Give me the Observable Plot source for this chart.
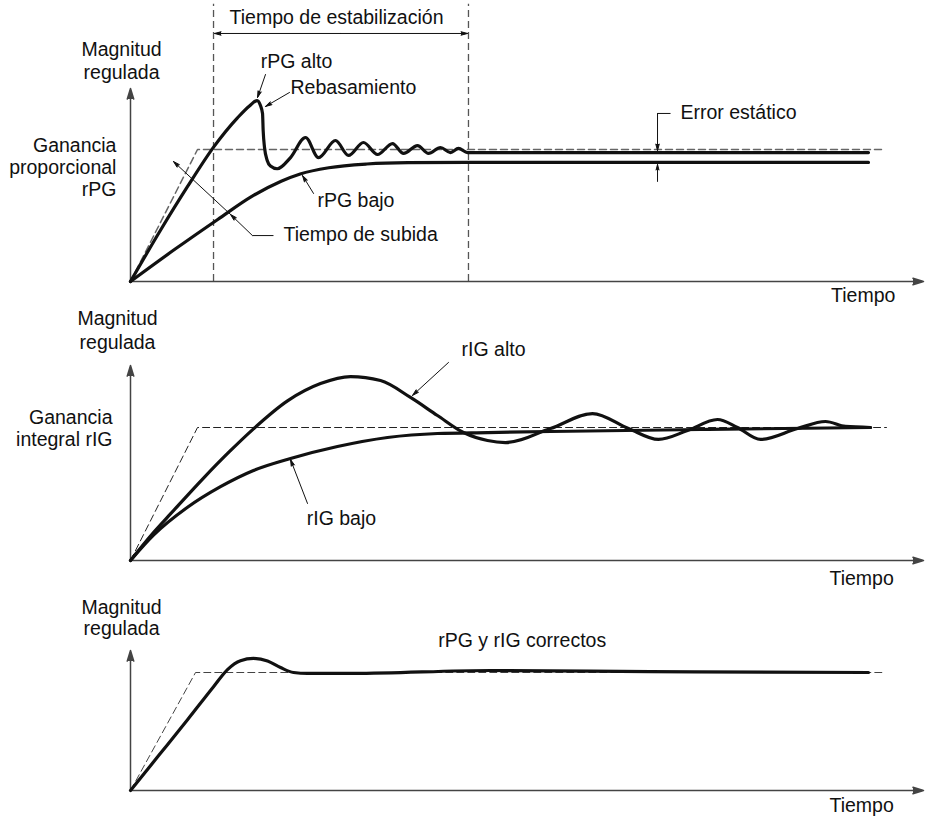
<!DOCTYPE html>
<html>
<head>
<meta charset="utf-8">
<script src="https://cdn.jsdelivr.net/npm/d3@7"></script>
<script src="https://cdn.jsdelivr.net/npm/@observablehq/plot@0.6"></script>
<style>
  html, body { margin: 0; padding: 0; background: #fff; }
  #chart { width: 929px; }
  #chart svg { display: block; }
</style>
</head>
<body>
<div id="chart"></div>
<script>
// ---------- DATA (t = time units, v = magnitude, setpoint = 1) ----------
// Panel 1: proportional gain
const p1Setpoint = [[0, 0], [8.45, 1], [94.96, 1]];
const p1RpgAlto = [[0, 0], [3.8, 0.39], [7.2, 0.72], [10.5, 1.02], [13.49, 1.24], [15.0, 1.33],
  [15.97, 1.371], [16.39, 1.333], [16.65, 1.273], [16.73, 1.144], [16.9, 1.015], [17.24, 0.917], [17.65, 0.875],
  [18.5, 0.854], [20.18, 0.939], [22.07, 1.091], [23.71, 0.939], [25.85, 1.068], [27.49, 0.955], [29.38, 1.053],
  [31.15, 0.962], [33.04, 1.045], [34.43, 0.970], [36.19, 1.030], [37.58, 0.970], [39.09, 1.015], [40.35, 0.977],
  [41.36, 1.008], [42.5, 0.977], [93.06, 0.977]];
const p1RpgBajo = [[0, 0], [5.5, 0.24], [11.0, 0.47], [15.3, 0.645], [19.0, 0.76], [21.4, 0.815], [25.0, 0.862],
  [29.8, 0.89], [35.0, 0.90], [42.5, 0.902], [93.06, 0.902]];
const p1SettleTimes = [10.47, 42.62];
const p1SettleTop = 2.1;
const p1AxisTop = 1.462;
const p1Arrows = [
  [17.02, 1.568, 16.02, 1.394],   // rPG alto
  [20.05, 1.432, 17.02, 1.326],   // Rebasamiento
  [23.08, 0.667, 21.69, 0.803],   // rPG bajo
  [15.38, 0.348, 12.61, 0.508],   // Tiempo de subida (lower head)
  [12.61, 0.508, 5.42, 0.909],    // Tiempo de subida (upper head)
  [66.46, 1.273, 66.46, 0.992],   // Error estático (down)
  [66.46, 0.758, 66.46, 0.886],   // Error estático (up)
  [26.5, 1.879, 10.6, 1.879],     // Tiempo de estabilización (left)
  [26.5, 1.879, 42.5, 1.879]      // Tiempo de estabilización (right)
];
const p1Links = [
  [18.03, 0.348, 15.38, 0.348],
  [68.10, 1.273, 66.46, 1.273]
];
const p1TextMiddle = [
  [-1.13, 1.758, "Magnitud"], [-1.13, 1.583, "regulada"],
  [25.98, 2.0, "Tiempo de estabilización"], [20.93, 1.667, "rPG alto"],
  [92.4, -0.106, "Tiempo"]
];
const p1TextStart = [
  [20.18, 1.470, "Rebasamiento"], [23.58, 0.614, "rPG bajo"],
  [19.29, 0.356, "Tiempo de subida"], [69.36, 1.280, "Error estático"]
];
const p1TextEnd = [
  [-1.77, 1.030, "Ganancia"], [-1.77, 0.864, "proporcional"], [-1.77, 0.697, "rPG"]
];

// Panel 2: integral gain
const p2Setpoint = [[0, 0], [8.45, 1], [95.33, 1]];
const p2RigAlto = [[0, 0], [2.9, 0.21], [5.04, 0.35], [9.21, 0.62], [12.5, 0.82], [15.51, 0.99], [19.8, 1.2],
  [23.96, 1.33], [27.74, 1.383], [31.53, 1.353], [35.31, 1.226], [38.71, 1.090], [41.99, 0.962], [45.02, 0.902],
  [47.29, 0.887], [52.96, 0.992], [58.26, 1.105], [62.80, 0.992], [66.58, 0.910], [70.24, 0.977],
  [74.02, 1.060], [76.54, 1.0], [79.45, 0.910], [84.11, 0.992], [87.64, 1.045], [90.16, 1.008], [93.32, 1.0]];
const p2RigBajo = [[0, 0], [2.9, 0.19], [7.19, 0.40], [11.35, 0.555], [15.51, 0.677], [20.18, 0.767],
  [26.10, 0.857], [32.41, 0.925], [38.71, 0.955], [45.02, 0.962], [52.96, 0.970], [71.88, 0.985], [93.32, 1.0]];
const p2AxisTop = 1.466;
const p2Arrows = [
  [40.1, 1.489, 35.56, 1.241],   // rIG alto
  [22.32, 0.429, 20.18, 0.759]   // rIG bajo
];
const p2TextMiddle = [
  [-1.64, 1.820, "Magnitud"], [-1.64, 1.639, "regulada"],
  [45.78, 1.586, "rIG alto"], [26.6, 0.316, "rIG bajo"], [92.2, -0.135, "Tiempo"]
];
const p2TextEnd = [
  [-2.27, 1.075, "Ganancia"], [-2.27, 0.910, "integral rIG"]
];

// Panel 3: correct gains
const p3Setpoint = [[0, 0], [8.2, 1], [94.96, 1]];
const p3Curve = [[0, 0], [3.6, 0.30], [7.19, 0.60], [10.47, 0.88], [12.23, 1.025], [13.87, 1.10],
  [15.51, 1.119], [17.28, 1.098], [18.92, 1.042], [20.56, 1.0], [22.32, 0.992], [28.12, 0.992],
  [45.40, 1.017], [65.57, 1.008], [93.06, 1.0]];
const p3AxisTop = 1.186;
const p3TextMiddle = [
  [-1.13, 1.551, "Magnitud"], [-1.13, 1.373, "regulada"],
  [49.4, 1.271, "rPG y rIG correctos"], [92.2, -0.127, "Tiempo"]
];

// ---------- DRAWING ----------
const FONT = "'Liberation Sans', Arial, Helvetica, sans-serif";
const FS = 19.5;
const INK = "#111";

function axisArrows(top) {
  const ax = [[0, 0, 100, 0], [0, 0, 0, top]];
  return Plot.arrow(ax, {
    x1: d => d[0], y1: d => d[1], x2: d => d[2], y2: d => d[3],
    stroke: "#444", fill: "#444", strokeWidth: 1.5, headLength: 11, headAngle: 34
  });
}
function curve(data) {
  return Plot.line(data, {x: d => d[0], y: d => d[1], stroke: INK, strokeWidth: 3.2, curve: "monotone-x"});
}
function dashed(data, color, w) {
  return Plot.line(data, {x: d => d[0], y: d => d[1], stroke: color, strokeWidth: w, strokeDasharray: "7,4"});
}
function leaders(data) {
  return Plot.arrow(data, {
    x1: d => d[0], y1: d => d[1], x2: d => d[2], y2: d => d[3],
    stroke: INK, fill: INK, strokeWidth: 1, headLength: 10, headAngle: 30
  });
}
function links(data) {
  return Plot.link(data, {x1: d => d[0], y1: d => d[1], x2: d => d[2], y2: d => d[3], stroke: INK, strokeWidth: 1});
}
function texts(data, anchor) {
  return Plot.text(data, {x: d => d[0], y: d => d[1], text: d => d[2], textAnchor: anchor,
    fill: INK, fontSize: FS, fontFamily: FONT});
}
function panel(height, marginBottom, yTop, marks) {
  return Plot.plot({
    width: 929, height, marginLeft: 130, marginRight: 6, marginTop: 0, marginBottom,
    x: {domain: [0, 100], axis: null},
    y: {domain: [0, yTop], axis: null},
    style: {fontFamily: FONT, background: "#fff", overflow: "visible", color: INK},
    marks
  });
}

const chart = document.getElementById("chart");

chart.append(panel(305, 24, 281 / 132, [
  Plot.ruleX(p1SettleTimes, {x: d => d, y1: 0, y2: p1SettleTop, stroke: "#555", strokeWidth: 1.3, strokeDasharray: "7,4"}),
  dashed(p1Setpoint, "#666", 1.5),
  axisArrows(p1AxisTop),
  curve(p1RpgBajo),
  curve(p1RpgAlto),
  leaders(p1Arrows),
  links(p1Links),
  texts(p1TextMiddle, "middle"),
  texts(p1TextStart, "start"),
  texts(p1TextEnd, "end")
]));

chart.append(panel(280, 25, 255 / 133, [
  dashed(p2Setpoint, "#222", 1),
  axisArrows(p2AxisTop),
  curve(p2RigBajo),
  curve(p2RigAlto),
  leaders(p2Arrows),
  texts(p2TextMiddle, "middle"),
  texts(p2TextEnd, "end")
]));

chart.append(panel(232, 27, 205 / 118, [
  dashed(p3Setpoint, "#444", 1),
  axisArrows(p3AxisTop),
  curve(p3Curve),
  texts(p3TextMiddle, "middle")
]));
</script>
</body>
</html>
